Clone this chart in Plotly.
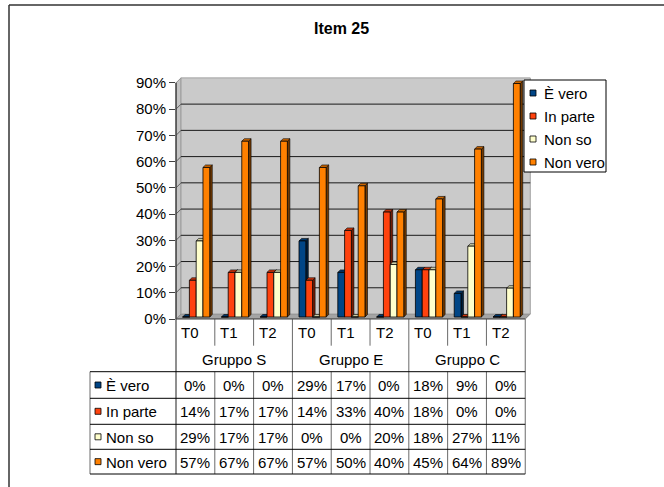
import plotly.graph_objects as go

# ---------------- data ----------------
TITLE = "Item 25"
PERIODS = ["T0", "T1", "T2", "T0", "T1", "T2", "T0", "T1", "T2"]
GROUPS = ["Gruppo S", "Gruppo E", "Gruppo C"]
SERIES = ["È vero", "In parte", "Non so", "Non vero"]
E_VERO = [0, 0, 0, 29, 17, 0, 18, 9, 0]
IN_PARTE = [14, 17, 17, 14, 33, 40, 18, 0, 0]
NON_SO = [29, 17, 17, 0, 0, 20, 18, 27, 11]
NON_VERO = [57, 67, 67, 57, 50, 40, 45, 64, 89]
Y_TICKS = [0, 10, 20, 30, 40, 50, 60, 70, 80, 90]

VALUES = [E_VERO, IN_PARTE, NON_SO, NON_VERO]
COLORS = ["#004586", "#ff420e", "#ffffcc", "#ff8000"]

# ---------------- geometry / style ----------------
PAGE_OFF = 0                      # body margin removed by post_script
W, H = 664 - PAGE_OFF, 487 - PAGE_OFF
L, R_PX, T, B_PX = 176, 533, 75, 319   # plot area in page pixels
FONT = "Liberation Sans, Arial, sans-serif"
FS = 15
XR = [-0.5, 8.7]
YR = [0, 0.93]
DX, DY = 0.13, 0.019          # depth of the walls
BW = 0.175                     # bar front width
OFF0 = -0.33                   # offset of first bar
SX, SY = 0.065, 0.0095         # bar depth
BASE = 0.0076


def px_x(px):
    return (px - L) / (R_PX - L)


def px_y(py):
    return (B_PX - py) / (B_PX - T)


def shade(hex_color, f):
    h = hex_color.lstrip("#")
    r, g, b = (int(h[i:i + 2], 16) for i in (0, 2, 4))
    return "#%02x%02x%02x" % (int(r * f), int(g * f), int(b * f))


fig = go.Figure()
x_pos = list(range(len(PERIODS)))

for i, (name, vals, col) in enumerate(zip(SERIES, VALUES, COLORS)):
    fig.add_trace(go.Bar(
        x=x_pos, y=[v / 100 for v in vals], base=BASE,
        width=BW, offset=OFF0 + i * BW, name=name,
        marker=dict(color=col, line=dict(color="#000000", width=0.8)),
        showlegend=False, hoverinfo="skip"))

shapes = []
# floor
shapes.append(dict(type="path", xref="x", yref="y", layer="below",
                   path=f"M -0.5,0 L 8.5,0 L {8.5+DX},{DY} L {-0.5+DX},{DY} Z",
                   fillcolor="#a4a4a4", line=dict(color="#808080", width=1)))
# left side wall
shapes.append(dict(type="path", xref="x", yref="y", layer="below",
                   path=f"M -0.5,0 L -0.5,0.9 L {-0.5+DX},{0.9+DY} L {-0.5+DX},{DY} Z",
                   fillcolor="#c4c4c4", line=dict(color="#909090", width=1)))
# back wall
shapes.append(dict(type="rect", xref="x", yref="y", layer="below",
                   x0=-0.5 + DX, x1=8.5 + DX, y0=DY, y1=0.9 + DY,
                   fillcolor="#cacaca", line=dict(color="#a0a0a0", width=1)))
# gridlines
for t in Y_TICKS[1:-1]:
    v = t / 100
    shapes.append(dict(type="line", xref="x", yref="y", layer="below",
                       x0=-0.5 + DX, x1=8.5 + DX, y0=v + DY, y1=v + DY,
                       line=dict(color="#1a1a1a", width=1)))
    shapes.append(dict(type="line", xref="x", yref="y", layer="below",
                       x0=-0.5, x1=-0.5 + DX, y0=v, y1=v + DY,
                       line=dict(color="#606060", width=1)))

# 3D sides and tops of bars (drawn beneath the bar fronts)
for ci in x_pos:
    for i, (vals, col) in enumerate(zip(VALUES, COLORS)):
        v = vals[ci] / 100 + BASE
        x0 = ci + OFF0 + i * BW
        x1 = x0 + BW
        shapes.append(dict(type="path", xref="x", yref="y", layer="below",
                           path=f"M {x1},{BASE} L {x1+SX},{BASE+SY} L {x1+SX},{v+SY} L {x1},{v} Z",
                           fillcolor=shade(col, 0.45), line=dict(color="#000000", width=0.6)))
        shapes.append(dict(type="path", xref="x", yref="y", layer="below",
                           path=f"M {x0},{v} L {x0+SX},{v+SY} L {x1+SX},{v+SY} L {x1},{v} Z",
                           fillcolor=shade(col, 0.8), line=dict(color="#000000", width=0.6)))

# y axis line
shapes.append(dict(type="line", xref="paper", yref="y", x0=0, x1=0, y0=0, y1=0.9,
                   line=dict(color="#404040", width=1.5)))

# ---------------- data table ----------------
ROW_T_TOP, ROW_T_BOT = 319, 345.7
ROWS = [371.7, 398.3, 424.3, 449.3, 474]
LBL_LEFT = 90
LINE_V = "#6a6a6a"

shapes.append(dict(type="line", xref="paper", yref="paper", x0=px_x(L), x1=px_x(L),
                   y0=px_y(319), y1=px_y(ROWS[-1]), line=dict(color=LINE_V, width=1.5)))
shapes.append(dict(type="line", xref="paper", yref="paper", x0=px_x(LBL_LEFT), x1=px_x(LBL_LEFT),
                   y0=px_y(ROWS[0]), y1=px_y(ROWS[-1]), line=dict(color=LINE_V, width=1)))
for b in [0.5, 1.5, 2.5, 3.5, 4.5, 5.5, 6.5, 7.5, 8.5]:
    xp = (b - XR[0]) / (XR[1] - XR[0])
    if b in (2.5, 5.5, 8.5):
        shapes.append(dict(type="line", xref="paper", yref="paper", x0=xp, x1=xp,
                           y0=px_y(319), y1=px_y(ROWS[-1]), line=dict(color=LINE_V, width=1)))
    else:
        shapes.append(dict(type="line", xref="paper", yref="paper", x0=xp, x1=xp,
                           y0=px_y(ROW_T_TOP), y1=px_y(ROW_T_BOT), line=dict(color=LINE_V, width=1)))
        shapes.append(dict(type="line", xref="paper", yref="paper", x0=xp, x1=xp,
                           y0=px_y(ROWS[0]), y1=px_y(ROWS[-1]), line=dict(color=LINE_V, width=1)))
x_end = (8.5 - XR[0]) / (XR[1] - XR[0])
shapes.append(dict(type="line", xref="paper", yref="paper", x0=0, x1=x_end,
                   y0=px_y(319), y1=px_y(319), line=dict(color="#404040", width=1)))
for ry in ROWS:
    shapes.append(dict(type="line", xref="paper", yref="paper", x0=px_x(LBL_LEFT), x1=x_end,
                       y0=px_y(ry), y1=px_y(ry), line=dict(color="#000000", width=1)))

annotations = []
for ci, p in enumerate(PERIODS):
    annotations.append(dict(xref="x", yref="paper", x=ci - 0.5 + 0.09, y=px_y(332),
                            text=p, showarrow=False, xanchor="left", yanchor="middle",
                            font=dict(family=FONT, size=FS, color="#000")))
for gi, g in enumerate(GROUPS):
    annotations.append(dict(xref="x", yref="paper", x=gi * 3 + 1, y=px_y(359),
                            text=g, showarrow=False, xanchor="center", yanchor="middle",
                            font=dict(family=FONT, size=FS, color="#000")))
for ri, (name, vals, col) in enumerate(zip(SERIES, VALUES, COLORS)):
    yc = (ROWS[ri] + ROWS[ri + 1]) / 2
    shapes.append(dict(type="rect", xref="paper", yref="paper",
                       x0=px_x(95), x1=px_x(101), y0=px_y(yc - 3), y1=px_y(yc + 3),
                       fillcolor=col, line=dict(color="#000", width=0.8)))
    annotations.append(dict(xref="paper", yref="paper", x=px_x(104), y=px_y(yc + 0.5),
                            text=name, showarrow=False, xanchor="left", yanchor="middle",
                            font=dict(family=FONT, size=FS, color="#000")))
    for ci, v in enumerate(vals):
        annotations.append(dict(xref="x", yref="paper", x=ci, y=px_y(yc + 0.5),
                                text=f"{v}%", showarrow=False, xanchor="center", yanchor="middle",
                                font=dict(family=FONT, size=FS, color="#000")))

# ---------------- legend (manual) ----------------
shapes.append(dict(type="rect", xref="paper", yref="paper",
                   x0=px_x(524), x1=px_x(606), y0=px_y(80), y1=px_y(172),
                   fillcolor="#ffffff", line=dict(color="#000", width=1)))
for i, (name, col) in enumerate(zip(SERIES, COLORS)):
    yc = 93 + i * 23
    shapes.append(dict(type="rect", xref="paper", yref="paper",
                       x0=px_x(530), x1=px_x(536), y0=px_y(yc - 3), y1=px_y(yc + 3),
                       fillcolor=col, line=dict(color="#000", width=0.8)))
    annotations.append(dict(xref="paper", yref="paper", x=px_x(542), y=px_y(yc + 0.5),
                            text=name, showarrow=False, xanchor="left", yanchor="middle",
                            font=dict(family=FONT, size=FS, color="#000")))

# title
annotations.append(dict(xref="paper", yref="paper", x=px_x(341), y=px_y(29),
                        text=f"<b>{TITLE}</b>", showarrow=False, xanchor="center", yanchor="middle",
                        font=dict(family=FONT, size=16, color="#000")))

# outer frame
shapes.append(dict(type="line", xref="paper", yref="paper", x0=px_x(9), x1=px_x(9),
                   y0=px_y(5), y1=px_y(492), line=dict(color="#333", width=1.5)))
shapes.append(dict(type="line", xref="paper", yref="paper", x0=px_x(9), x1=px_x(670),
                   y0=px_y(5), y1=px_y(5), line=dict(color="#333", width=1.5)))

fig.update_layout(
    width=W, height=H,
    margin=dict(l=L - PAGE_OFF, r=W - (R_PX - PAGE_OFF), t=T - PAGE_OFF,
                b=H - (B_PX - PAGE_OFF), pad=0),
    paper_bgcolor="#ffffff", plot_bgcolor="#ffffff",
    barmode="overlay",
    xaxis=dict(range=XR, visible=False, fixedrange=True),
    yaxis=dict(range=YR, tickvals=[t / 100 for t in Y_TICKS],
               ticktext=[f"{t}%" for t in Y_TICKS],
               showgrid=False, zeroline=False, showline=False,
               ticks="outside", ticklen=6, tickcolor="#404040", tickwidth=1,
               tickfont=dict(family=FONT, size=FS, color="#000"), fixedrange=True),
    shapes=shapes, annotations=annotations,
    showlegend=False,
)

fig.write_html("out.html",
               config={"displayModeBar": False},
               post_script="document.body.style.margin='0';document.body.style.overflow='hidden';")
